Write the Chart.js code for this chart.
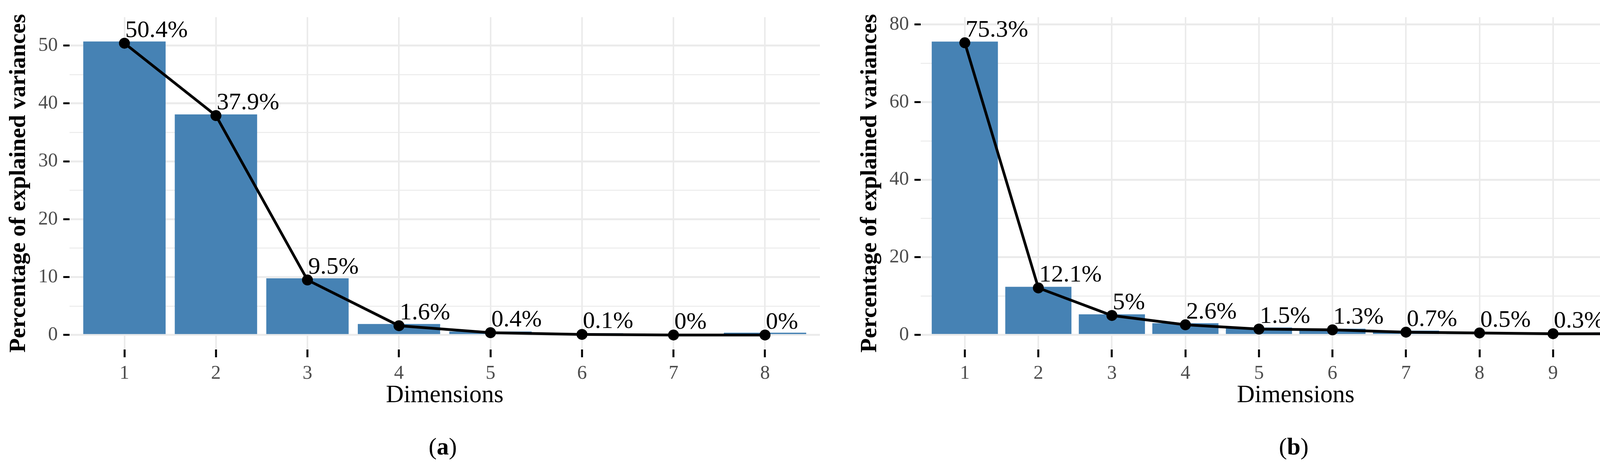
<!DOCTYPE html>
<html><head><meta charset="utf-8">
<script src="https://cdn.jsdelivr.net/npm/chart.js@4"></script>
<style>body{margin:0;background:#fff;width:4301px;height:1196px;overflow:hidden;position:relative}
canvas{position:absolute;top:0}</style></head>
<body>
<canvas id="ca" width="2150" height="1196" style="left:0"></canvas>
<canvas id="cb" width="2151" height="1196" style="left:2150px"></canvas>
<script>
const dimsA = [1,2,3,4,5,6,7,8];
const barsA = [50.7,38.1,9.8,1.9,0.6,0.3,0.1,0.4];
const pctA  = [50.4,37.9,9.5,1.6,0.4,0.1,0,0];
const dimsB = [1,2,3,4,5,6,7,8,9,10];
const barsB = [75.6,12.4,5.3,3.0,1.9,1.6,1.1,0.7,0.35,0.6];
const pctB  = [75.3,12.1,5,2.6,1.5,1.3,0.7,0.5,0.3,0.3];
const yTicksA = [0,10,20,30,40,50];
const yTicksB = [0,20,40,60,80];
const yTitle = 'Percentage of explained variances';
const xTitle = 'Dimensions';

const F = "'Liberation Serif', 'DejaVu Serif', serif";
function make(id, dims, bars, pct, yTicks, step, ymin, ymax, yw, padR, tag){
  const labelsPlugin = {
    id:'lbl',
    afterDatasetsDraw(c){
      const ctx=c.ctx, meta=c.getDatasetMeta(1), ca=c.chartArea;
      ctx.save();
      ctx.fillStyle='#000'; ctx.font='62px '+F; ctx.textBaseline='alphabetic';
      meta.data.forEach((p,i)=>{
        const t=pct[i]+'%'; const w=ctx.measureText(t).width;
        let x=p.x+2; if(x+w>ca.right-8) x=ca.right-8-w;
        ctx.fillText(t,x,p.y-16);
      });
      ctx.restore();
    },
    afterDraw(c){
      const ctx=c.ctx, ca=c.chartArea;
      ctx.save();
      ctx.fillStyle='#000'; ctx.textAlign='center'; ctx.textBaseline='middle';
      ctx.font='63px '+F;
      ctx.fillText(xTitle,(ca.left+ca.right)/2,1013);
      ctx.save(); ctx.translate(yw-130,(ca.top+ca.bottom)/2); ctx.rotate(-Math.PI/2);
      ctx.font='bold 60px '+F; ctx.fillText(yTitle,0,0); ctx.restore();
      const cx=(ca.left+ca.right)/2 - 5, cy=1148;
      ctx.font='62px '+F; const wp=ctx.measureText('(').width;
      ctx.font='bold 62px '+F; const wa=ctx.measureText(tag).width;
      const tot=2*wp+wa; let x=cx-tot/2;
      ctx.textAlign='left';
      ctx.font='62px '+F; ctx.fillText('(',x,cy); x+=wp;
      ctx.font='bold 62px '+F; ctx.fillText(tag,x,cy); x+=wa;
      ctx.font='62px '+F; ctx.fillText(')',x,cy);
      ctx.restore();
    }
  };
  new Chart(document.getElementById(id),{
    data:{datasets:[
      {type:'bar',data:dims.map((d,i)=>({x:d,y:bars[i]})),backgroundColor:'#4682B4',
       barPercentage:0.9,categoryPercentage:1,order:2},
      {type:'line',data:dims.map((d,i)=>({x:d,y:pct[i]})),borderColor:'#000',borderWidth:7,
       pointRadius:14,pointBackgroundColor:'#000',pointBorderWidth:0,tension:0,order:1}
    ]},
    options:{responsive:false,animation:false,devicePixelRatio:1,
      layout:{padding:{left:0,right:padR,top:34,bottom:0}},
      plugins:{legend:{display:false},tooltip:{enabled:false}},
      scales:{
        x:{type:'linear',min:0.4,max:dims.length+0.6,offset:false,
          afterBuildTicks(s){s.ticks=dims.map(v=>({value:v}));},
          afterFit(s){s.height=1196-895;},
          border:{display:false},
          grid:{offset:false,color:'#ebebeb',lineWidth:4,tickColor:'#000',tickLength:20,tickWidth:5,drawTicks:true},
          ticks:{includeBounds:false,padding:12,color:'#4d4d4d',font:{family:F,size:50},autoSkip:false,maxRotation:0}},
        y:{min:ymin,max:ymax,
          afterBuildTicks(s){const t=[];for(let v=0;v<=ymax;v+=step/2)t.push({value:v});s.ticks=t;},
          afterFit(s){s.width=yw;},
          border:{display:false},
          grid:{color:'#ebebeb',lineWidth:c=>(c.tick&&yTicks.includes(c.tick.value))?5:2.5,
            tickColor:c=>(c.tick&&yTicks.includes(c.tick.value))?'#000':'rgba(0,0,0,0)',tickLength:16,tickWidth:5},
          ticks:{includeBounds:false,padding:14,color:'#4d4d4d',font:{family:F,size:50},
            callback:v=>yTicks.includes(v)?String(v):''}}
      }},
    plugins:[labelsPlugin]
  });
}
make('ca',dimsA,barsA,pctA,yTicksA,10,-2.5,54.9,178,51,'a');
make('cb',dimsB,barsB,pctB,yTicksB,20,-3.76,81.9,207,24,'b');
</script></body></html>
